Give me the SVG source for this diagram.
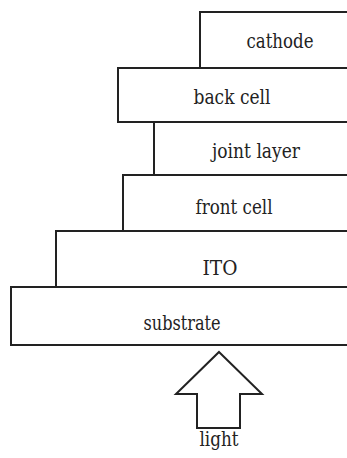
<svg xmlns="http://www.w3.org/2000/svg" width="347" height="458" viewBox="0 0 347 458">
<style>
.box{fill:#fff;stroke:#222;stroke-width:2}
.lbl{fill:#222;text-anchor:middle;font-family:"DejaVu Serif","Liberation Serif",serif;font-size:20px}
</style>
<rect width="347" height="458" fill="#fff"/>
<g id="cathode"><rect class="box" x="200" y="12" width="160" height="56"/><text class="lbl" x="280" y="48" textLength="67" lengthAdjust="spacingAndGlyphs">cathode</text></g>
<g id="back-cell"><rect class="box" x="118" y="68" width="240" height="54"/><text class="lbl" x="232" y="104" textLength="77" lengthAdjust="spacingAndGlyphs">back cell</text></g>
<g id="joint-layer"><rect class="box" x="154" y="122" width="210" height="53"/><text class="lbl" x="256" y="158" textLength="88" lengthAdjust="spacingAndGlyphs">joint layer</text></g>
<g id="front-cell"><rect class="box" x="123" y="175" width="240" height="56"/><text class="lbl" x="234" y="214" textLength="77" lengthAdjust="spacingAndGlyphs">front cell</text></g>
<g id="ito"><rect class="box" x="56" y="231" width="300" height="56"/><text class="lbl" x="220" y="275" textLength="35" lengthAdjust="spacingAndGlyphs">ITO</text></g>
<g id="substrate"><rect class="box" x="11" y="287" width="350" height="58"/><text class="lbl" x="182" y="330" textLength="77" lengthAdjust="spacingAndGlyphs">substrate</text></g>
<g id="light"><polygon class="box" points="219,352 262,394 240,394 240,428 197,428 197,394 176,394"/><text class="lbl" x="219" y="446" textLength="39" lengthAdjust="spacingAndGlyphs">light</text></g>
</svg>
